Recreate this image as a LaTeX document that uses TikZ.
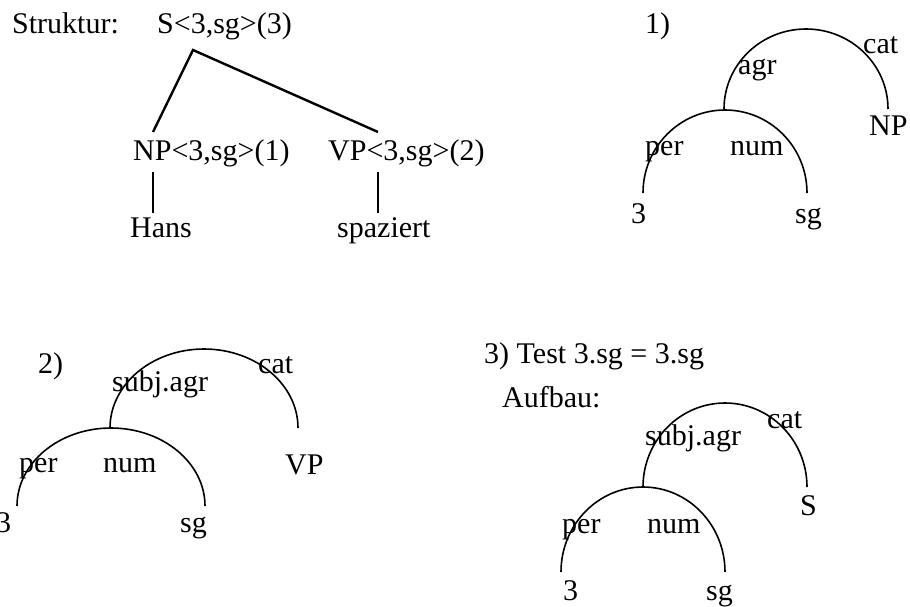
\documentclass[tikz,border=0pt]{standalone}
\usepackage{fontspec}
\setmainfont{Liberation Serif}
\begin{document}
\begin{tikzpicture}[x=1pt,y=-1pt,
  txt/.style={inner sep=0pt,anchor=base west,font=\fontsize{30}{34}\selectfont},
  branch/.style={line width=2.4pt},
  stem/.style={line width=1.8pt},
  fsarc/.style={line width=1.6pt}]
\useasboundingbox (0,0) rectangle (910,606);

% ---- syntax tree ----
\node[txt] (lab) at (12,33) {Struktur:};
\node[txt] (s) at (157,33) {S<3,sg>(3)};
\node[txt] (np) at (133,160) {NP<3,sg>(1)};
\node[txt] (vp) at (328,160) {VP<3,sg>(2)};
\node[txt] (hans) at (130,237) {Hans};
\node[txt] (spaz) at (337,237) {spaziert};
\coordinate (sFoot) at (193,50);
\coordinate (npHead) at (153,132);
\coordinate (vpHead) at (378,132);
\coordinate (npFoot) at (153,172);
\coordinate (hansHead) at (153,213);
\coordinate (vpFoot) at (378,172);
\coordinate (spazHead) at (378,213);
\draw[branch] (npHead) -- (sFoot) -- (vpHead);
\draw[stem] (npFoot) -- (hansHead);
\draw[stem] (vpFoot) -- (spazHead);

% ---- 1) NP feature structure ----
\node[txt] (p1) at (645,33) {1)};
\coordinate (a1) at (724,109);
\coordinate (b1) at (643,193);
\draw[fsarc] (a1) arc[start angle=180,end angle=0,x radius=82pt,y radius=80pt];
\draw[fsarc] (b1) arc[start angle=180,end angle=0,x radius=82pt,y radius=83pt];
\node[txt] (agr1) at (738,74) {agr};
\node[txt] (cat1) at (863,53) {cat};
\node[txt] (np1) at (869,135) {NP};
\node[txt] (per1) at (645,155) {per};
\node[txt] (num1) at (730,155) {num};
\node[txt] (three1) at (631,223) {3};
\node[txt] (sg1) at (795,223) {sg};

% ---- 2) VP feature structure ----
\node[txt] (p2) at (38,373) {2)};
\coordinate (a2) at (110,428);
\coordinate (b2) at (17,506);
\draw[fsarc] (a2) arc[start angle=180,end angle=0,x radius=94pt,y radius=79pt];
\draw[fsarc] (b2) arc[start angle=180,end angle=0,x radius=94pt,y radius=78pt];
\node[txt] (agr2) at (112,391) {subj.agr};
\node[txt] (cat2) at (258,373) {cat};
\node[txt] (vp2) at (285,474) {VP};
\node[txt] (per2) at (19,472) {per};
\node[txt] (num2) at (103,472) {num};
\node[txt] (three2) at (-4,532) {3};
\node[txt] (sg2) at (180,532) {sg};

% ---- 3) S feature structure ----
\node[txt] (p3) at (484,363) {3) Test 3.sg = 3.sg};
\node[txt] (auf) at (502,407) {Aufbau:};
\coordinate (a3) at (643,487);
\coordinate (b3) at (561,572);
\draw[fsarc] (a3) arc[start angle=180,end angle=0,x radius=82pt,y radius=84pt];
\draw[fsarc] (b3) arc[start angle=180,end angle=0,x radius=82pt,y radius=85pt];
\node[txt] (agr3) at (645,445) {subj.agr};
\node[txt] (cat3) at (767,428) {cat};
\node[txt] (s3) at (800,515) {S};
\node[txt] (per3) at (562,533) {per};
\node[txt] (num3) at (647,533) {num};
\node[txt] (three3) at (563,600) {3};
\node[txt] (sg3) at (706,600) {sg};
\end{tikzpicture}
\end{document}
